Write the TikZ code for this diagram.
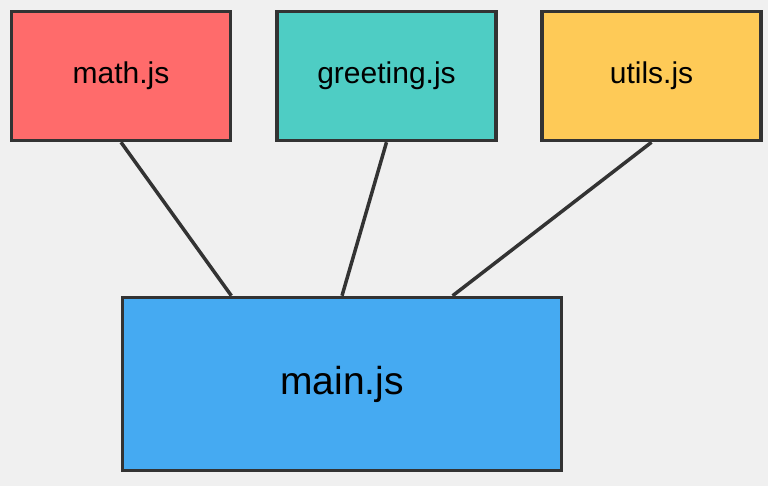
\documentclass[tikz,border=0pt]{standalone}
\usepackage{fontspec}
\setmainfont{Liberation Sans}
\usetikzlibrary{calc}

\definecolor{mathred}{HTML}{FF6B6B}
\definecolor{greetteal}{HTML}{4ECDC4}
\definecolor{utilsyellow}{HTML}{FECA57}
\definecolor{mainblue}{HTML}{45AAF2}
\definecolor{edgegray}{HTML}{333333}
\definecolor{bggray}{HTML}{F0F0F0}

\begin{document}
\begin{tikzpicture}[x=1pt, y=-1pt, line width=3.5pt, draw=edgegray]
    \tikzstyle{module}=[rectangle, draw=edgegray, line width=3.5pt, minimum width=219pt, minimum height=129pt, inner sep=0pt, font=\fontsize{30}{36}\selectfont]
    \tikzstyle{entry}=[module, minimum width=439pt, minimum height=173pt, font=\fontsize{39}{46}\selectfont]
    \tikzstyle{dep}=[edgegray, line width=3.5pt]

% Background
    \fill[bggray] (0,0) rectangle (768,486);
    \useasboundingbox (0,0) rectangle (768,486);

% Nodes
    % Imported modules
    \node[module, fill=mathred] (math) at (121,76) {math.js};
    \node[module, fill=greetteal] (greeting) at (386.5,76) {greeting.js};
    \node[module, fill=utilsyellow] (utils) at (651.5,76) {utils.js};

    % Entry module
    \node[entry, fill=mainblue] (main) at (342,384) {main.js};

% Paths
    \coordinate (in-1) at ($(main.north west)!0.25!(main.north east)$);
    \coordinate (in-2) at ($(main.north west)!0.5!(main.north east)$);
    \coordinate (in-3) at ($(main.north west)!0.75!(main.north east)$);

    \draw[dep] (math.south) -- (in-1);
    \draw[dep] (greeting.south) -- (in-2);
    \draw[dep] (utils.south) -- (in-3);

\end{tikzpicture}
\end{document}
